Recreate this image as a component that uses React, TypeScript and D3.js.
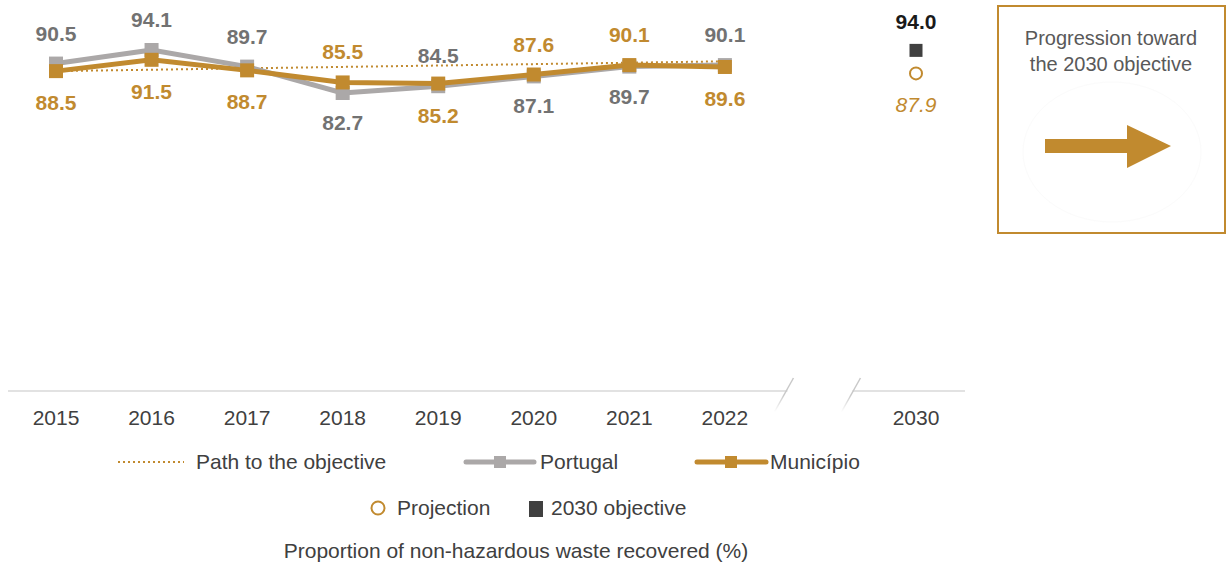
import React from "react";
import * as d3 from "d3";

const years = ["2015", "2016", "2017", "2018", "2019", "2020", "2021", "2022"];
const slots = [...years, "gap", "2030"];
const portugal = [90.5, 94.1, 89.7, 82.7, 84.5, 87.1, 89.7, 90.1];
const municipio = [88.5, 91.5, 88.7, 85.5, 85.2, 87.6, 90.1, 89.6];
const portugalAbove = [true, true, true, false, true, false, false, true];
const pathYears = ["2015", "2022"];
const pathValues = [88.5, 91.1];
const objective2030 = 94.0;
const projection2030 = 87.9;

const GOLD = "#C18A2F";
const GRAY = "#ABA8A8";
const LABEL_GRAY = "#727272";
const FONT = "'Liberation Sans', Arial, sans-serif";

export default function App() {
  const W = 1229, H = 564;
  const x = d3.scalePoint<string>().domain(slots).range([56, 916]);
  const y = d3.scaleLinear().domain([82.7, 94.1]).range([93, 50]);
  const axisY = 391;

  const line = d3
    .line<number>()
    .x((_, i) => x(years[i])!)
    .y((d) => y(d));

  const pathLine = d3
    .line<number>()
    .x((_, i) => x(pathYears[i])!)
    .y((d) => y(d));

  const sq = 14;
  const bx = x("2022")! + (x("2030")! - x("2022")!) / 2;
  const fs = 21;

  return (
    <svg width={W} height={H} style={{ position: "absolute", left: 0, top: 0 }} fontFamily={FONT}>
      <defs>
        <linearGradient id="brk" x1="0" y1="1" x2="0" y2="0">
          <stop offset="0" stopColor="#fff" />
          <stop offset="0.5" stopColor="#c8c8c8" />
          <stop offset="1" stopColor="#c8c8c8" />
        </linearGradient>
      </defs>
      {/* axis baseline with break */}
      <line x1={8} x2={bx - 33} y1={axisY} y2={axisY} stroke="#d9d9d9" strokeWidth={1.5} />
      <line x1={bx + 32} x2={965} y1={axisY} y2={axisY} stroke="#d9d9d9" strokeWidth={1.5} />
      <line x1={bx - 46} y1={axisY + 21} x2={bx - 27} y2={axisY - 13} stroke="url(#brk)" strokeWidth={1.5} />
      <line x1={bx + 21} y1={axisY + 21} x2={bx + 40} y2={axisY - 13} stroke="url(#brk)" strokeWidth={1.5} />

      {slots
        .filter((s) => s !== "gap")
        .map((s) => (
          <text key={s} x={x(s)} y={425} textAnchor="middle" fontSize={fs} fill="#404040">
            {s}
          </text>
        ))}

      {/* path to objective */}
      <path d={pathLine(pathValues)!} fill="none" stroke={GOLD} strokeWidth={2} strokeDasharray="2 3" />

      {/* Portugal */}
      <path d={line(portugal)!} fill="none" stroke={GRAY} strokeWidth={5} strokeLinejoin="round" />
      {portugal.map((v, i) => (
        <rect key={"p" + i} x={x(years[i])! - sq / 2} y={y(v) - sq / 2} width={sq} height={sq} fill={GRAY} />
      ))}

      {/* Municipio */}
      <path d={line(municipio)!} fill="none" stroke={GOLD} strokeWidth={5} strokeLinejoin="round" />
      {municipio.map((v, i) => (
        <rect key={"m" + i} x={x(years[i])! - sq / 2} y={y(v) - sq / 2} width={sq} height={sq} fill={GOLD} />
      ))}

      {/* labels */}
      {years.map((yr, i) => {
        const pa = portugalAbove[i];
        return (
          <g key={"l" + yr}>
            <text
              x={x(yr)}
              y={pa ? y(portugal[i]) - 23 : y(portugal[i]) + 37}
              textAnchor="middle"
              fontSize={fs}
              fontWeight="bold"
              fill={LABEL_GRAY}
            >
              {portugal[i].toFixed(1)}
            </text>
            <text
              x={x(yr)}
              y={pa ? y(municipio[i]) + 39 : y(municipio[i]) - 23}
              textAnchor="middle"
              fontSize={fs}
              fontWeight="bold"
              fill={GOLD}
            >
              {municipio[i].toFixed(1)}
            </text>
          </g>
        );
      })}

      {/* 2030 */}
      <text x={x("2030")} y={y(objective2030) - 21} textAnchor="middle" fontSize={fs} fontWeight="bold" fill="#1a1a1a">
        {objective2030.toFixed(1)}
      </text>
      <rect x={x("2030")! - 6.5} y={y(objective2030) - 6.5} width={13} height={13} fill="#404040" />
      <circle cx={x("2030")} cy={y(projection2030)} r={6} fill="#fff" stroke={GOLD} strokeWidth={2} />
      <text x={x("2030")} y={y(projection2030) + 39} textAnchor="middle" fontSize={fs} fontStyle="italic" fill={GOLD}>
        {projection2030.toFixed(1)}
      </text>

      {/* box */}
      <rect x={998} y={6} width={227} height={227} fill="#fff" stroke={GOLD} strokeWidth={2} />
      <text x={1111} y={45} textAnchor="middle" fontSize={20} fill="#595959">Progression toward</text>
      <text x={1111} y={71} textAnchor="middle" fontSize={20} fill="#595959">the 2030 objective</text>
      <ellipse cx={1112} cy={152} rx={89} ry={70} fill="none" stroke="#fbfbfb" strokeWidth={1} />
      <path d="M1045,139 L1127,139 L1127,125 L1171,146 L1127,168 L1127,153 L1045,153 Z" fill={GOLD} />

      {/* legend row 1 */}
      <line x1={118} x2={184} y1={462} y2={462} stroke={GOLD} strokeWidth={2} strokeDasharray="2 3" />
      <text x={196} y={469} fontSize={fs} fill="#404040">Path to the objective</text>
      <line x1={466} x2={534} y1={462} y2={462} stroke={GRAY} strokeWidth={5} strokeLinecap="round" />
      <rect x={494} y={456} width={12} height={12} fill={GRAY} />
      <text x={540} y={469} fontSize={fs} fill="#404040">Portugal</text>
      <line x1={697} x2={766} y1={462} y2={462} stroke={GOLD} strokeWidth={5} strokeLinecap="round" />
      <rect x={725} y={456} width={12} height={12} fill={GOLD} />
      <text x={770} y={469} fontSize={fs} fill="#404040">Município</text>

      {/* legend row 2 */}
      <circle cx={378} cy={508} r={6.5} fill="#fff" stroke={GOLD} strokeWidth={2} />
      <text x={397} y={515} fontSize={fs} fill="#404040">Projection</text>
      <rect x={529} y={501} width={14} height={16} fill="#404040" />
      <text x={551} y={515} fontSize={fs} fill="#404040">2030 objective</text>

      <text x={516} y={558} textAnchor="middle" fontSize={fs} fill="#404040">
        Proportion of non-hazardous waste recovered (%)
      </text>
    </svg>
  );
}
